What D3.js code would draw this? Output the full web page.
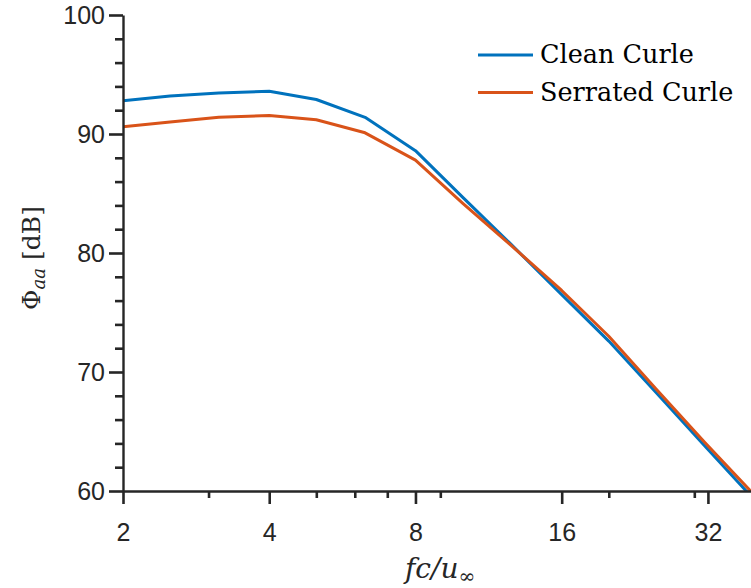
<!DOCTYPE html>
<html>
<head>
<meta charset="utf-8">
<script src="https://cdn.jsdelivr.net/npm/d3@7"></script>
<style>
  html, body { margin: 0; padding: 0; background: #fff; }
  svg { display: block; }
</style>
</head>
<body>
<svg id="chart" width="751" height="588"></svg>
<script>
// ---- data ----
const freqs = [2, 2.5, 3.15, 4, 5, 6.3, 8, 10, 12.5, 16, 20, 25, 31.5, 40];
const cleanCurle = [92.8, 93.2, 93.45, 93.6, 92.9, 91.4, 88.6, 84.7, 80.85, 76.5, 72.6, 68.3, 63.8, 59.2];
const serratedCurle = [90.6, 91.0, 91.4, 91.55, 91.2, 90.1, 87.8, 84.2, 80.75, 76.85, 73.0, 68.6, 64.1, 59.6];
const seriesNames = ["Clean Curle", "Serrated Curle"];
const xMajorTicks = [2, 4, 8, 16, 32];
const xMinorTicks = [3, 5, 6, 7, 9, 20, 30];
const yMajorTicks = [60, 70, 80, 90, 100];
const yMinorTicks = [62, 64, 66, 68, 72, 74, 76, 78, 82, 84, 86, 88, 92, 94, 96, 98];

(function () {
// ---- layout ----
const svg = d3.select("#chart");
const pLeft = 123, pRight = 755, pTop = 15, pBottom = 491;
const axisColor = "#262626";
const colors = ["#0072BD", "#D95319"];

const x = d3.scaleLog().base(2).domain([2, 40]).range([pLeft, pRight]);
const y = d3.scaleLinear().domain([60, 100]).range([pBottom, pTop]);

svg.append("defs").append("clipPath").attr("id", "plotclip")
  .append("rect").attr("x", pLeft).attr("y", pTop - 2)
  .attr("width", pRight - pLeft).attr("height", pBottom - pTop + 2);

// lines
const line = d3.line().x((d, i) => x(freqs[i])).y(d => y(d));
[cleanCurle, serratedCurle].forEach((s, k) => {
  svg.append("path")
    .datum(s)
    .attr("clip-path", "url(#plotclip)")
    .attr("fill", "none")
    .attr("stroke", colors[k])
    .attr("stroke-width", 3)
    .attr("stroke-linejoin", "round")
    .attr("d", line);
});

// ---- axes ----
function styleAxis(g) {
  g.selectAll("path, line").attr("stroke", axisColor);
  g.select(".domain").attr("stroke-width", 2.4);
  g.selectAll(".tick line").attr("stroke-width", 2.6);
  g.selectAll("text")
    .attr("fill", axisColor)
    .style("font-family", "'Liberation Sans', Arial, Helvetica, sans-serif")
    .style("font-size", "25px");
}

svg.append("g")
  .attr("transform", `translate(0,${pBottom})`)
  .call(d3.axisBottom(x).tickValues(xMinorTicks).tickSize(7).tickFormat(""))
  .call(g => g.select(".domain").remove())
  .call(styleAxis);

svg.append("g")
  .attr("transform", `translate(${pLeft},0)`)
  .call(d3.axisLeft(y).tickValues(yMinorTicks).tickSize(8).tickFormat(""))
  .call(g => g.select(".domain").remove())
  .call(styleAxis);

svg.append("g")
  .attr("transform", `translate(0,${pBottom})`)
  .call(d3.axisBottom(x).tickValues(xMajorTicks).tickSize(13).tickSizeOuter(0).tickPadding(19).tickFormat(d3.format("d")))
  .call(styleAxis);

svg.append("g")
  .attr("transform", `translate(${pLeft},0)`)
  .call(d3.axisLeft(y).tickValues(yMajorTicks).tickSize(14).tickSizeOuter(0).tickPadding(4).tickFormat(d3.format("d")))
  .call(styleAxis);

// ---- axis labels ----
const serif = "'DejaVu Serif', 'Liberation Serif', serif";
const xl = svg.append("text")
  .attr("x", 440).attr("y", 578)
  .attr("text-anchor", "middle")
  .attr("fill", axisColor)
  .style("font-family", serif)
  .style("font-size", "28px");
xl.append("tspan").style("font-style", "italic").text("fc/u");
xl.append("tspan").attr("dy", 5).style("font-size", "20px").text("∞");

const yl = svg.append("text")
  .attr("transform", `translate(40,258) rotate(-90)`)
  .attr("text-anchor", "middle")
  .attr("fill", axisColor)
  .style("font-family", serif)
  .style("font-size", "25px");
yl.append("tspan").text("Φ");
yl.append("tspan").attr("dy", 5).style("font-style", "italic").style("font-size", "18px").text("aa");
yl.append("tspan").attr("dy", -5).text(" [dB]");

// ---- legend ----
const legend = svg.append("g");
seriesNames.forEach((name, k) => {
  const ly = 55 + k * 37.5;
  legend.append("line")
    .attr("x1", 478).attr("x2", 533)
    .attr("y1", ly).attr("y2", ly)
    .attr("stroke", colors[k]).attr("stroke-width", 3);
  legend.append("text")
    .attr("x", 540).attr("y", ly + 8)
    .attr("fill", "#000")
    .style("font-family", serif)
    .style("font-size", "25.5px")
    .text(name);
});
})();
</script>
</body>
</html>
